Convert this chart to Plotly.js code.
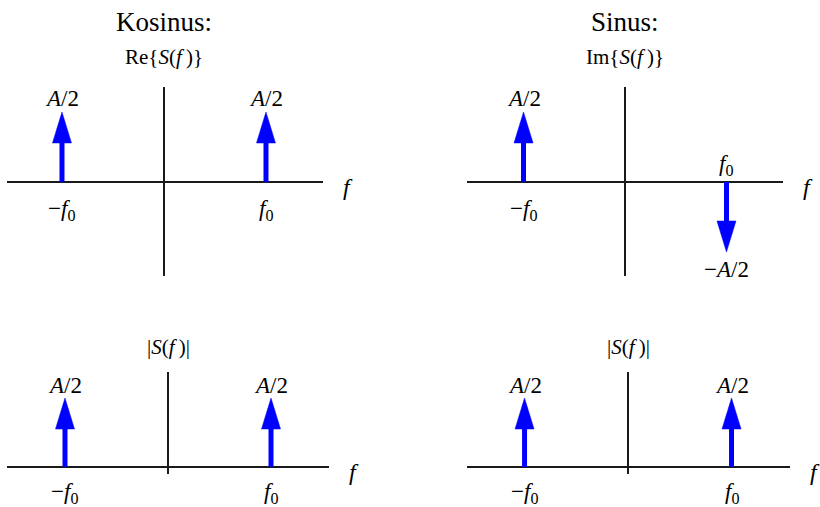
<!DOCTYPE html>
<html><head><meta charset="utf-8">
<script src="https://cdn.plot.ly/plotly-3.0.1.min.js"></script>
<style>html,body{margin:0;padding:0;background:#fff}#chart{width:820px;height:507px}</style>
</head><body><div id="chart"></div>
<script>
// ---- data (frequencies in units of f0, amplitudes in units of A/2) ----
const freqs = [-1, 1];
const cosRe = [1, 1];
const sinIm = [1, -1];
const cosMag = [1, 1];
const sinMag = [1, 1];
const columnTitles = ['Kosinus:', 'Sinus:'];
const panelLabels = ['Re{<i>S</i>(<i>f</i>\u2009)}', 'Im{<i>S</i>(<i>f</i>\u2009)}', '|<i>S</i>(<i>f</i>\u2009)|', '|<i>S</i>(<i>f</i>\u2009)|'];
const freqTicks = ['\u2212<i>f</i><sub>0</sub>', '<i>f</i><sub>0</sub>'];
const ampLabel = '<i>A</i>/2';
const negAmpLabel = '\u2212<i>A</i>/2';
const axisLabel = '<i>f</i>';

// ---- layout of panels ----
const W = 820, H = 507;
const panels = [
  {vals: cosRe,  px: [7, 323],   py: [87, 276],  xr: [-1.539, 1.559], yr: [-1.343, 1.357], title: columnTitles[0]},
  {vals: sinIm,  px: [467, 783], py: [87, 276],  xr: [-1.557, 1.557], yr: [-1.343, 1.357], title: columnTitles[1]},
  {vals: cosMag, px: [7, 329],   py: [372, 474], xr: [-1.563, 1.563], yr: [-0.101, 1.377]},
  {vals: sinMag, px: [467, 790], py: [372, 474], xr: [-1.556, 1.565], yr: [-0.101, 1.377]}
];
const BLUE = '#0000ff';
const FONT = 'Liberation Serif';
const traces = [];
const annotations = [];
const layout = {
  width: W, height: H, margin: {l: 0, r: 0, t: 0, b: 0},
  paper_bgcolor: '#fff', plot_bgcolor: '#fff', showlegend: false,
  font: {family: FONT, color: '#000'},
  annotations: annotations
};

panels.forEach((p, i) => {
  const n = i + 1;
  const xa = 'x' + n, ya = 'y' + n;
  const axCommon = {showgrid: false, showticklabels: false, ticks: '', showline: false,
    zeroline: true, zerolinecolor: '#1a1a1a', zerolinewidth: 1.3, fixedrange: true};
  layout['xaxis' + n] = Object.assign({}, axCommon, {range: p.xr, domain: [p.px[0] / W, p.px[1] / W], anchor: ya});
  layout['yaxis' + n] = Object.assign({}, axCommon, {range: p.yr, domain: [1 - p.py[1] / H, 1 - p.py[0] / H], anchor: xa});
  const pxPerX = (p.px[1] - p.px[0]) / (p.xr[1] - p.xr[0]);
  const pxPerY = (p.py[1] - p.py[0]) / (p.yr[1] - p.yr[0]);
  const headLen = 31 / pxPerY;
  const headHW = 9.5 / pxPerX;

  freqs.forEach((f, k) => {
    const v = p.vals[k];
    const s = Math.sign(v);
    const base = v - s * headLen;
    // shaft
    traces.push({type: 'scatter', mode: 'lines', xaxis: xa, yaxis: ya, hoverinfo: 'skip',
      x: [f, f], y: [0, base + s * 0.02], line: {color: BLUE, width: 5}});
    // head
    traces.push({type: 'scatter', mode: 'lines', xaxis: xa, yaxis: ya, hoverinfo: 'skip',
      x: [f - headHW, f, f + headHW, f - headHW], y: [base, v, base, base],
      fill: 'toself', fillcolor: BLUE, line: {color: BLUE, width: 0.5}});
    const fnt = {family: FONT, size: 23, color: '#000'};
    if (v > 0) {
      annotations.push({xref: xa, yref: ya, x: f, y: v, text: ampLabel, showarrow: false,
        yanchor: 'middle', yshift: 13, font: fnt});
      annotations.push({xref: xa, yref: ya, x: f, y: 0, text: freqTicks[k], showarrow: false,
        yanchor: 'middle', yshift: i < 2 ? -28 : -26, font: fnt});
    } else {
      annotations.push({xref: xa, yref: ya, x: f, y: v, text: negAmpLabel, showarrow: false,
        yanchor: 'middle', yshift: -18, font: fnt});
      annotations.push({xref: xa, yref: ya, x: f, y: 0, text: freqTicks[k], showarrow: false,
        yanchor: 'bottom', yshift: 1, font: fnt});
    }
  });
  // axis label f
  annotations.push({xref: xa + ' domain', yref: ya, x: 1, y: 0, text: axisLabel, showarrow: false,
    xanchor: 'center', yanchor: 'middle', xshift: 25, yshift: -5,
    font: {family: FONT, size: 24, color: '#000'}});
  // panel label
  annotations.push({xref: xa, yref: ya + ' domain', x: 0, y: 1, text: panelLabels[i], showarrow: false,
    yanchor: 'middle', yshift: i < 2 ? 30 : 25, font: {family: FONT, size: 21, color: '#000'}});
  if (p.title) {
    annotations.push({xref: xa, yref: ya + ' domain', x: 0, y: 1, text: p.title, showarrow: false,
      yanchor: 'middle', yshift: 65, font: {family: FONT, size: 27, color: '#000'}});
  }
});

Plotly.newPlot('chart', traces, layout, {displayModeBar: false, staticPlot: true});
</script></body></html>
